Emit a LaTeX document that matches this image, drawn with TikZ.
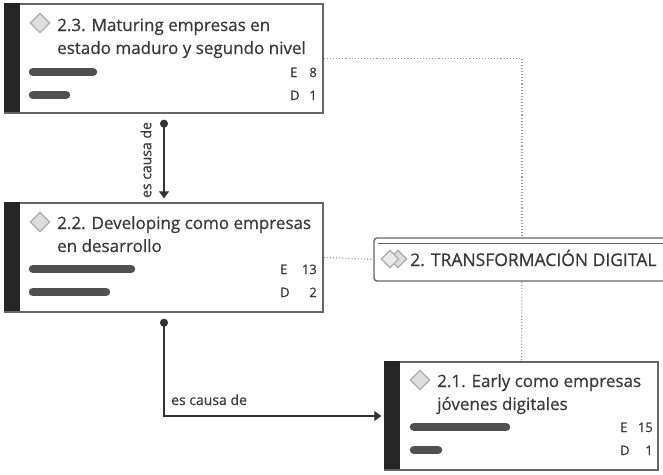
\documentclass[tikz,border=0pt]{standalone}
\usepackage{fontspec}
\setmainfont{Open Sans}[FakeBold=0.6]
\usetikzlibrary{arrows.meta,shapes.geometric}
\definecolor{txt}{HTML}{3A3A3A}
\definecolor{bord}{HTML}{666666}
\definecolor{barc}{HTML}{505050}
\definecolor{dotc}{HTML}{9A9A9A}
\tikzset{
  card/.style={draw=bord, line width=1.4pt, fill=white, rectangle, inner sep=0pt},
  titletext/.style={anchor=base west, inner sep=0pt, text=txt, font=\fontsize{17}{23}\selectfont, align=left},
  stat/.style={anchor=base west, inner sep=0pt, text=txt, font=\fontsize{13}{15}\selectfont},
  statnum/.style={anchor=base east, inner sep=0pt, text=txt, font=\fontsize{13}{15}\selectfont},
  bar/.style={line width=8.5pt, line cap=round, draw=barc},
  icon/.style={diamond, draw=black!30, fill=black!13, line width=1.4pt, minimum size=20pt, inner sep=0pt},
  rel/.style={draw=black!80, line width=1.2pt},
  dotlink/.style={draw=dotc, line width=1.1pt, dotted},
  lbl/.style={text=txt, font=\fontsize{14}{16}\selectfont, inner sep=0pt},
}
\begin{document}
\begin{tikzpicture}[x=1pt,y=-1pt]
\useasboundingbox (0,0) rectangle (663,474);
% topic node
\node[card, rounded corners=3pt, minimum width=296pt, minimum height=43pt] (bt) at (522,259.5) {};
\draw[bord, line width=1.2pt] (378,243.5) -- (663,243.5);
\node[icon, minimum size=18pt] (ti1) at (398,259) {};
\node[icon, minimum size=18pt, fill=black!8] (ti2) at (390,259) {};
\node[anchor=base west, inner sep=0pt, text=txt, font=\fontsize{17.5}{20}\selectfont] (tt) at (410,266) {2. TRANSFORMACIÓN DIGITAL};
% card 2.3
\node[card, minimum width=318pt, minimum height=109pt] (b23) at (164,58.5) {};
\fill[black!85] (b23.north west) rectangle ++(16,109);
\node[icon] (i23) at (40,23) {};
\node[titletext] (t23) at (57,54) {2.3. Maturing empresas en\\estado maduro y segundo nivel};
\draw[bar] (33,72) -- (93,72);
\draw[bar] (33,95) -- (66,95);
\node[stat] (e23) at (290,77) {E};
\node[statnum] (n23) at (317,77) {8};
\node[stat] (d23) at (290,100) {D};
\node[statnum] (m23) at (317,100) {1};
% card 2.2
\node[card, minimum width=318pt, minimum height=109pt] (b22) at (164,257.5) {};
\fill[black!85] (b22.north west) rectangle ++(16,109);
\node[icon] (i22) at (40,222) {};
\node[titletext] (t22) at (57,252) {2.2. Developing como empresas\\en desarrollo};
\draw[bar] (33,269) -- (131,269);
\draw[bar] (33,292) -- (106,292);
\node[stat] (e22) at (280,274) {E};
\node[statnum] (n22) at (317,274) {13};
\node[stat] (d22) at (280,297) {D};
\node[statnum] (m22) at (317,297) {2};
% card 2.1
\node[card, minimum width=273pt, minimum height=108pt] (b21) at (521.5,416) {};
\fill[black!85] (b21.north west) rectangle ++(16,108);
\node[icon] (i21) at (420,380) {};
\node[titletext] (t21) at (437,410) {2.1. Early como empresas\\jóvenes digitales};
\draw[bar] (414,427) -- (506,427);
\draw[bar] (414,450) -- (438,450);
\node[stat] (e21) at (620,432) {E};
\node[statnum] (n21) at (653,432) {15};
\node[stat] (d21) at (620,455) {D};
\node[statnum] (m21) at (653,455) {1};
% dotted links
\draw[dotlink] (b23.east) -| (bt.north);
\draw[dotlink] (b22.east) -- (bt.west);
\draw[dotlink] (bt.south) -- (b21.north);
% relations
\draw[rel, {Circle[length=8pt]}-{Triangle[length=7pt,width=10pt]}, shorten <=6pt, shorten >=4pt] (b23.south) -- (b22.north);
\node[lbl, rotate=90] (l1) at (146,160) {es causa de};
\coordinate (c1) at (164,416);
\draw[rel, {Circle[length=8pt]}-{Triangle[length=7pt,width=10pt]}, shorten <=6pt, shorten >=3pt] (b22.south) -- (c1) -- (c1 -| b21.west);
\node[lbl, anchor=base west] (l2) at (171,405) {es causa de};
\end{tikzpicture}
\end{document}
